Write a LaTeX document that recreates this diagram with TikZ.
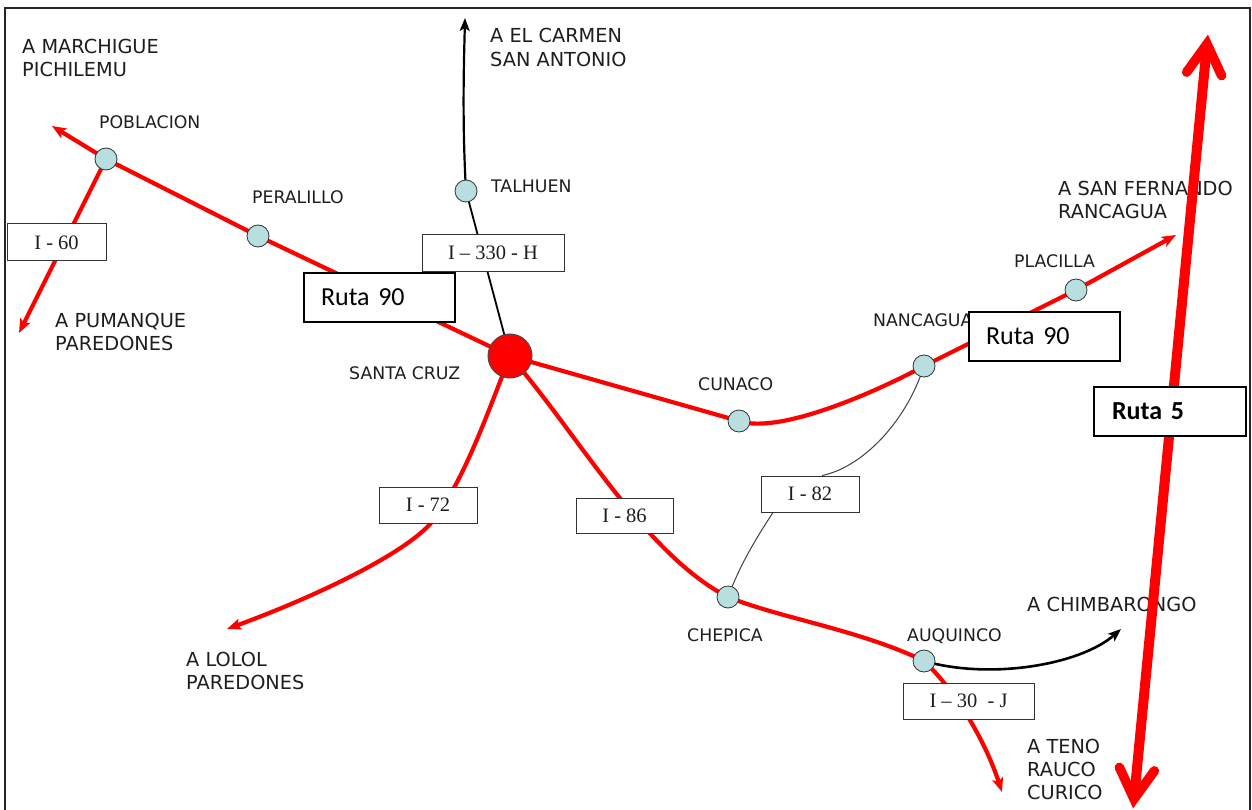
\documentclass[tikz,border=0pt]{standalone}
\usepackage{fontspec}
\setmainfont{DejaVu Sans}
\newfontfamily\rutafont{Carlito}
\newfontfamily\codefont{Liberation Serif}
\usetikzlibrary{arrows.meta,calc}
\definecolor{dotfill}{RGB}{184,222,224}
\definecolor{roadred}{RGB}{255,0,0}
\definecolor{txt}{RGB}{30,30,30}
\pgfdeclarelayer{bg}
\pgfsetlayers{bg,main}
\begin{document}
\begin{tikzpicture}[x=1pt,y=-1pt,
  road/.style={draw=roadred, line width=4.2pt},
  redtip/.style={-{Stealth[length=14pt,width=11pt,inset=3pt]}},
  blacktip/.style={-{Stealth[length=13pt,width=10pt,inset=3pt]}},
  dot/.style={circle, draw=black!80, line width=0.8pt, fill=dotfill, minimum size=22pt, inner sep=0pt},
  hub/.style={circle, draw=black!70, line width=1pt, fill=roadred, minimum size=44pt, inner sep=0pt},
  biglab/.style={font=\fontsize{19.3}{23}\selectfont, text=txt, anchor=base west, inner sep=0pt},
  smalllab/.style={font=\fontsize{17.3}{20}\selectfont, text=txt, anchor=base west, inner sep=0pt},
  codebox/.style={draw=black!80, line width=1pt, fill=white, font=\codefont\fontsize{20.5}{24}\selectfont, text=txt, inner sep=0pt},
  rutabox/.style={draw=black, line width=2pt, fill=white, font=\rutafont\fontsize{26}{30}\selectfont, text=black, inner ysep=0pt, inner xsep=17pt, align=left},
  r5line/.style={draw=roadred, line width=10pt},
  r5head/.style={draw=roadred, line width=9.5pt, line cap=round, line join=miter}
]
\useasboundingbox (0,0) rectangle (1252,810);

% frame
\draw[line width=1.8pt, black!85] (5,815) -- (5,8) -- (1250,8) -- (1250,815);

% free ends
\coordinate (wPM) at (52,126);
\coordinate (sPU) at (19,333);
\coordinate (nEC) at (465,18);
\coordinate (eSF) at (1176,235);
\coordinate (swLO) at (227,629);
\coordinate (sTE) at (1002,792);
\coordinate (eCH) at (1121,629);
\coordinate (m72) at (431,523);

% towns
\node[dot] (pob) at (106,159) {};
\node[dot] (per) at (258,236) {};
\node[dot] (tal) at (466,191) {};
\node[hub] (sc) at (510,356) {};
\node[dot] (cun) at (739,421) {};
\node[dot] (nan) at (924,366) {};
\node[dot] (pla) at (1076,290) {};
\node[dot] (che) at (728,597) {};
\node[dot] (auq) at (924,661) {};

% labels
\node[biglab] (lMA) at (22,54) {A MARCHIGUE};
\node[biglab] (lPI) at (22,77) {PICHILEMU};
\node[biglab] (lEC) at (490,43) {A EL CARMEN};
\node[biglab] (lSA) at (490,67) {SAN ANTONIO};
\node[biglab] (lPU) at (55,327) {A PUMANQUE};
\node[biglab] (lPA) at (55,350) {PAREDONES};
\node[biglab] (lSF) at (1058,196) {A SAN FERNANDO};
\node[biglab] (lRA) at (1058,219) {RANCAGUA};
\node[biglab] (lLO) at (186,666) {A LOLOL};
\node[biglab] (lPA2) at (186,689) {PAREDONES};
\node[biglab] (lCH) at (1027,611) {A CHIMBARONGO};
\node[biglab] (lTE) at (1027,753) {A TENO};
\node[biglab] (lRC) at (1027,776) {RAUCO};
\node[biglab] (lCU) at (1027,799) {CURICO};

\node[smalllab] (tPOB) at (99,129) {POBLACION};
\node[smalllab] (tPER) at (252,204) {PERALILLO};
\node[smalllab] (tTAL) at (491,193) {TALHUEN};
\node[smalllab] (tSC) at (349,379) {SANTA CRUZ};
\node[smalllab] (tCUN) at (698,390) {CUNACO};
\node[smalllab] (tNAN) at (873,326) {NANCAGUA};
\node[smalllab] (tPLA) at (1014,268) {PLACILLA};
\node[smalllab] (tCHE) at (687,641) {CHEPICA};
\node[smalllab] (tAUQ) at (907,641) {AUQUINCO};

% road boxes
\node[codebox, minimum width=99pt, minimum height=37pt] (i60) at (56.5,242.5) {I - 60};
\node[codebox, minimum width=142pt, minimum height=36pt] (i330) at (493,253) {I – 330 - H};
\node[codebox, minimum width=98pt, minimum height=36pt] (i72) at (428,505) {I - 72};
\node[codebox, minimum width=97pt, minimum height=35pt] (i86) at (624.5,515.5) {I - 86};
\node[codebox, minimum width=98pt, minimum height=36pt] (i82) at (810,494) {I - 82};
\node[codebox, minimum width=131pt, minimum height=36pt] (i30) at (968.5,701) {I – 30 \ - J};

\node[rutabox, text width=117pt, minimum height=49pt] (r90w) at (379.5,297.5) {Ruta 90};
\node[rutabox, text width=117pt, minimum height=49pt] (r90e) at (1044.5,336.5) {Ruta 90};

% Ruta 5
\coordinate (r5t) at (1207,44);
\coordinate (r5b) at (1134,799);
\coordinate (r5tl) at (1186.6,72.2);
\coordinate (r5tr) at (1221.6,75.6);
\coordinate (r5bl) at (1119.4,767.4);
\coordinate (r5br) at (1154.4,770.8);
\draw[r5line] (r5b) -- (r5t);
\draw[r5head] (r5tl) -- (r5t) -- (r5tr);
\draw[r5head] (r5bl) -- (r5b) -- (r5br);
\node[rutabox, inner xsep=18pt, text width=116pt, minimum height=49pt, font=\rutafont\bfseries\fontsize{26}{30}\selectfont] (r5) at (1170,411.5) {Ruta 5};

\begin{pgfonlayer}{bg}
\fill[white] (0,0) rectangle (1252,810);
% Ruta 90
\draw[road, {Stealth[length=14pt,width=11pt,inset=3pt]}-] (wPM) -- (pob.center) -- (per.center) -- (sc.center);
\draw[road] (sc.center) -- (cun.center) .. controls (780,435) and (880,390) .. (nan.center) -- (pla.center);
\draw[road, redtip] (pla.center) -- (eSF);
% I-60
\draw[road, redtip] (pob.center) -- (sPU);
% I-330-H
\draw[black, line width=1.8pt] (sc.center) -- (tal.center);
\draw[black, line width=2.2pt, blacktip] (tal.center) .. controls (462,120) and (464,60) .. (nEC);
% I-72
\draw[road] (sc.center) .. controls (485,420) and (462,485) .. (m72);
\draw[road, redtip] (m72) .. controls (405,553) and (320,595) .. (swLO);
% I-86
\draw[road] (sc.center) .. controls (575,430) and (645,555) .. (che.center);
% Chepica - Auquinco
\draw[road] (che.center) .. controls (780,618) and (860,630) .. (auq.center);
% I-30-J
\draw[road, redtip] (auq.center) .. controls (955,690) and (985,740) .. (sTE);
% to Chimbarongo
\draw[black, line width=2.6pt, blacktip] (auq.center) .. controls (990,680) and (1080,665) .. (eCH);
% I-82
\draw[black!75, line width=1pt] (nan.center) .. controls (905,425) and (860,468) .. ([xshift=12pt]i82.north);
\draw[black!75, line width=1pt] ([xshift=-37pt]i82.south) .. controls (755,540) and (740,565) .. (che.center);
\end{pgfonlayer}
\end{tikzpicture}
\end{document}
